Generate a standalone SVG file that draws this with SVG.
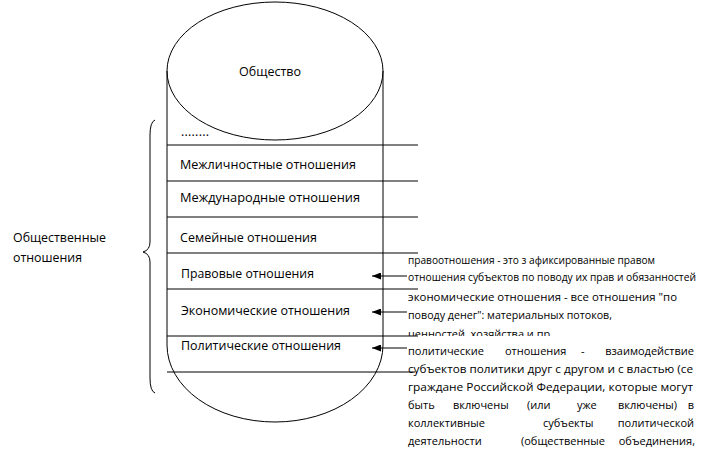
<svg xmlns="http://www.w3.org/2000/svg" width="708" height="451" viewBox="0 0 708 451">
<style>
.ln{stroke:#000;stroke-width:1;fill:none}
.lbl{font-family:"Open Sans","Liberation Sans",sans-serif;font-size:12.5px;fill:#000}
.ann{font-family:"Open Sans","Liberation Sans",sans-serif;font-size:11px;fill:#000}
.arr{stroke:#000;stroke-width:1;fill:none;marker-end:url(#ah)}
</style>
<defs>
<marker id="ah" markerWidth="9" markerHeight="7" refX="9" refY="3.5" orient="auto" markerUnits="userSpaceOnUse">
<path d="M0,0 L9,3.5 L0,7 Z" fill="#000"/>
</marker>
</defs>
<rect width="708" height="451" fill="#fff"/>
<g id="society">
<path class="ln" d="M167,71 L167,345 A108,77 0 0 0 383,345 L383,71"/>
<ellipse class="ln" cx="275" cy="71" rx="108" ry="69" fill="#fff"/>
<text class="lbl" x="239" y="76" textLength="62" lengthAdjust="spacingAndGlyphs">Общество</text>
</g>
<g id="layers">
<line class="ln" x1="167" y1="145" x2="418" y2="145"/>
<line class="ln" x1="167" y1="181" x2="418" y2="181"/>
<line class="ln" x1="167" y1="217" x2="418" y2="217"/>
<line class="ln" x1="167" y1="253" x2="418" y2="253"/>
<line class="ln" x1="167" y1="289" x2="418" y2="289"/>
</g>
<g id="layer-dots"><text class="lbl" x="181" y="136" textLength="28" lengthAdjust="spacing">........</text></g>
<g id="layer-interpersonal"><text class="lbl" x="180" y="169" textLength="176" lengthAdjust="spacingAndGlyphs">Межличностные отношения</text></g>
<g id="layer-international"><text class="lbl" x="180" y="202" textLength="180" lengthAdjust="spacingAndGlyphs">Международные отношения</text></g>
<g id="layer-family"><text class="lbl" x="180" y="242" textLength="137" lengthAdjust="spacingAndGlyphs">Семейные отношения</text></g>
<g id="layer-legal"><text class="lbl" x="181" y="278" textLength="133" lengthAdjust="spacingAndGlyphs">Правовые отношения</text></g>
<g id="layer-economic"><text class="lbl" x="181" y="315" textLength="169" lengthAdjust="spacingAndGlyphs">Экономические отношения</text></g>
<g id="layer-political"><text class="lbl" x="181" y="350" textLength="160" lengthAdjust="spacingAndGlyphs">Политические отношения</text></g>
<g id="brace">
<path class="ln" d="M155,120 Q150,122 150,135 L150,242 Q150,250 143,252 Q150,254 150,262 L150,378 Q150,391 155,393"/>
</g>
<g id="social-relations">
<text class="lbl" x="13" y="242" textLength="93" lengthAdjust="spacingAndGlyphs">Общественные</text>
<text class="lbl" x="13" y="262" textLength="69" lengthAdjust="spacingAndGlyphs">отношения</text>
</g>
<g id="note-legal">
<text class="ann" x="408" y="264" textLength="247" lengthAdjust="spacingAndGlyphs">правоотношения - это з афиксированные правом</text>
<text class="ann" x="408" y="281" textLength="288" lengthAdjust="spacingAndGlyphs">отношения  субъектов по поводу их прав и обязанностей</text>
</g>
<g id="note-economic">
<text class="ann" x="408" y="301" textLength="269" lengthAdjust="spacingAndGlyphs">экономические отношения - все отношения "по</text>
<text class="ann" x="408" y="319" textLength="204" lengthAdjust="spacingAndGlyphs">поводу денег": материальных потоков,</text>
<text class="ann" x="408" y="338" textLength="145" lengthAdjust="spacingAndGlyphs">ценностей, хозяйства и пр.</text>
</g>
<g id="note-political">
<rect x="400" y="336" width="300" height="115" fill="#fff"/>
<text class="ann" x="408" y="355">политические</text>
<text class="ann" x="505" y="355">отношения</text>
<text class="ann" x="581" y="355">-</text>
<text class="ann" x="694" y="355" text-anchor="end">взаимодействие</text>
<text class="ann" x="408" y="373" textLength="285" lengthAdjust="spacingAndGlyphs">субъектов политики друг с другом и с властью (се</text>
<text class="ann" x="408" y="391" textLength="285" lengthAdjust="spacingAndGlyphs">граждане Российской Федерации, которые могут</text>
<text class="ann" x="408" y="409">быть</text>
<text class="ann" x="453" y="409">включены</text>
<text class="ann" x="527" y="409">(или</text>
<text class="ann" x="577" y="409">уже</text>
<text class="ann" x="618" y="409">включены)</text>
<text class="ann" x="694" y="409" text-anchor="end">в</text>
<text class="ann" x="408" y="427">коллективные</text>
<text class="ann" x="543" y="427">субъекты</text>
<text class="ann" x="694" y="427" text-anchor="end">политической</text>
<text class="ann" x="408" y="445">деятельности</text>
<text class="ann" x="521" y="445">(общественные</text>
<text class="ann" x="695" y="445" text-anchor="end">объединения,</text>
</g>
<g id="connectors">
<line class="ln" x1="167" y1="336" x2="418" y2="336"/>
<line class="ln" x1="167" y1="372" x2="415" y2="372"/>
<line class="arr" x1="407" y1="276" x2="372" y2="276"/>
<line class="arr" x1="407" y1="312" x2="372" y2="312"/>
<line class="arr" x1="407" y1="348" x2="372" y2="348"/>
</g>
</svg>
